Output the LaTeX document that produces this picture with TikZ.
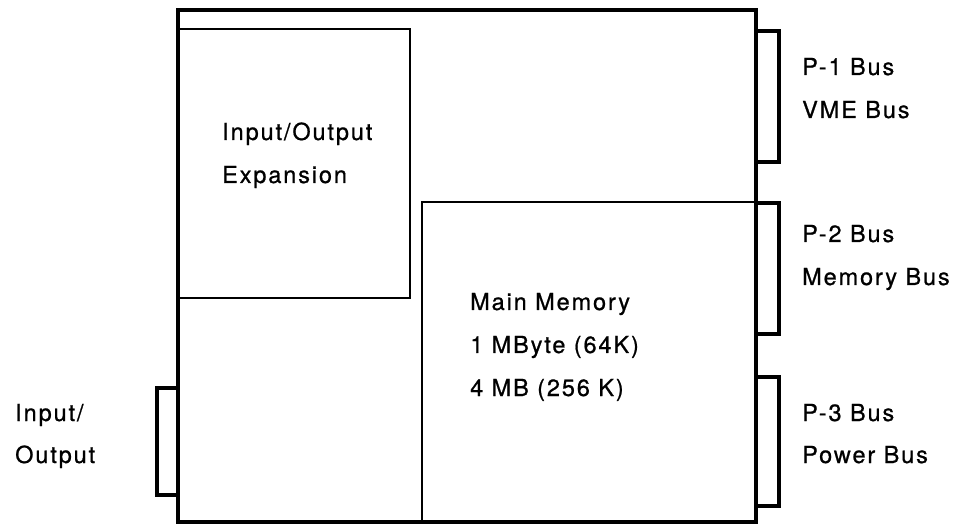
\documentclass[tikz,border=0pt]{standalone}
\usepackage{fontspec}
\newfontfamily\lbl[LetterSpace=8,FakeBold=0.8]{TeX Gyre Heros}
\begin{document}
\begin{tikzpicture}[x=1pt,y=-1pt,
  heavy/.style={line width=3.4pt, line join=miter},
  light/.style={line width=2.4pt},
  txt/.style={anchor=base west, inner sep=0pt, font=\lbl\fontsize{23.5}{26}\selectfont}]
\useasboundingbox (0,0) rectangle (977,526);
% outer board
\coordinate (oTL) at (178,10);
\coordinate (oBR) at (756,522);
\draw[heavy] (oTL) rectangle (oBR);
% I/O expansion box
\coordinate (eTL) at (178,29);
\coordinate (eBR) at (410,298);
\draw[light] (eTL) -- (eTL -| eBR) -- (eBR) -- (eBR -| eTL);
% main memory box
\coordinate (mTL) at (422,202);
\coordinate (mBR) at (756,522);
\draw[light] (mTL |- mBR) -- (mTL) -- (mTL -| mBR);
% right connectors
\coordinate (p1a) at (756,31);  \coordinate (p1b) at (779,162);
\coordinate (p2a) at (756,203); \coordinate (p2b) at (779,334);
\coordinate (p3a) at (756,377); \coordinate (p3b) at (779,506);
\draw[heavy] (p1a) -| (p1b) -- (p1b -| p1a);
\draw[heavy] (p2a) -| (p2b) -- (p2b -| p2a);
\draw[heavy] (p3a) -| (p3b) -- (p3b -| p3a);
% left connector
\coordinate (ioa) at (178,388); \coordinate (iob) at (157,495);
\draw[heavy] (ioa) -| (iob) -- (iob -| ioa);
% labels
\node[txt] (t1) at (222,140) {Input/Output};
\node[txt] (t2) at (222,183) {Expansion};
\node[txt] (m1) at (470,310) {Main Memory};
\node[txt] (m2) at (470,353) {1 MByte (64K)};
\node[txt] (m3) at (470,396) {4 MB (256 K)};
\node[txt] (r1) at (802,75) {P-1 Bus};
\node[txt] (r2) at (802,118) {VME Bus};
\node[txt] (r3) at (802,242) {P-2 Bus};
\node[txt] (r4) at (802,285) {Memory Bus};
\node[txt] (r5) at (802,421) {P-3 Bus};
\node[txt] (r6) at (802,463) {Power Bus};
\node[txt] (l1) at (15,421) {Input/};
\node[txt] (l2) at (15,463) {Output};
\end{tikzpicture}
\end{document}
